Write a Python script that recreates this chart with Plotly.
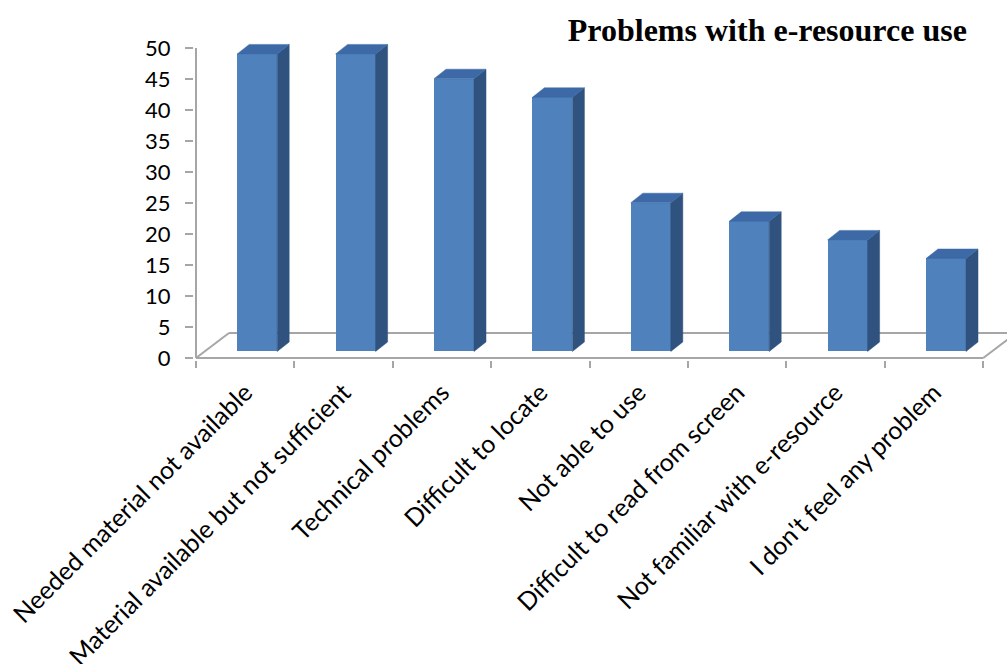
import plotly.graph_objects as go

# ---- data ----
categories = [
    "Needed material not available",
    "Material available but not sufficient",
    "Technical problems",
    "Difficult to locate",
    "Not able to use",
    "Difficult to read from screen",
    "Not familiar with e-resource",
    "I don't feel any problem",
]
values = [48, 48, 44, 41, 24, 21, 18, 15]
y_ticks = [0, 5, 10, 15, 20, 25, 30, 35, 40, 45, 50]
title_text = "Problems with e-resource use"

# ---- 3D look parameters (in axis units) ----
FLOOR_DX, FLOOR_DY = 0.335, 4.03     # floor depth
BAR_SHIFT = 0.122                    # front face shift from category centre
BAR_W = 0.4065                       # front face width
BAR_BASE = 1.05                      # front face bottom above front edge
BAR_DX, BAR_DY = 0.122, 1.53         # bar depth

FRONT = "#4F81BD"
SIDE = "#30527F"
TOP = "#3D6AA6"
GRID = "#A6A6A6"

n = len(categories)
xs = [i + BAR_SHIFT for i in range(n)]

fig = go.Figure()

# front faces
fig.add_trace(go.Bar(
    x=xs, y=values, base=[BAR_BASE] * n, width=BAR_W,
    marker=dict(color=FRONT, line=dict(width=0)),
    hoverinfo="skip", showlegend=False,
))

# side and top faces
side_x, side_y, top_x, top_y = [], [], [], []
for x, v in zip(xs, values):
    xl, xr = x - BAR_W / 2, x + BAR_W / 2
    b, t = BAR_BASE, BAR_BASE + v
    side_x += [xr, xr + BAR_DX, xr + BAR_DX, xr, xr, None]
    side_y += [b, b + BAR_DY, t + BAR_DY, t, b, None]
    top_x += [xl, xr, xr + BAR_DX, xl + BAR_DX, xl, None]
    top_y += [t, t, t + BAR_DY, t + BAR_DY, t, None]

fig.add_trace(go.Scatter(x=side_x, y=side_y, mode="lines", fill="toself",
                         fillcolor=SIDE, line=dict(color=SIDE, width=0.5),
                         hoverinfo="skip", showlegend=False))
fig.add_trace(go.Scatter(x=top_x, y=top_y, mode="lines", fill="toself",
                         fillcolor=TOP, line=dict(color=TOP, width=0.5),
                         hoverinfo="skip", showlegend=False))

# floor outline and value-axis line
x_lo, x_hi = -0.5, n - 0.5
floor = [
    (x_lo, 0, x_hi, 0),
    (x_hi, 0, x_hi + FLOOR_DX, FLOOR_DY),
    (x_lo + FLOOR_DX, FLOOR_DY, x_hi + FLOOR_DX, FLOOR_DY),
    (x_lo, 0, x_lo + FLOOR_DX, FLOOR_DY),
    (x_lo, 0, x_lo, max(y_ticks)),
]
for x0, y0, x1, y1 in floor:
    fig.add_shape(type="line", xref="x", yref="y", x0=x0, y0=y0, x1=x1, y1=y1,
                  line=dict(color=GRID, width=2), layer="below")

PX_X = 98.4
PX_Y = 6.2
L, R, T, B = 194, 0, 20, 304
W, H = 1007, 664
xmin = -0.5 - 2 / PX_X
xmax = xmin + (W - L - R) / PX_X
ymin = -2 / PX_Y
ymax = ymin + (H - T - B) / PX_Y

fig.update_layout(
    width=W, height=H,
    margin=dict(l=L, r=R, t=T, b=B, autoexpand=False),
    paper_bgcolor="white", plot_bgcolor="white",
    bargap=0,
    title=dict(text="<b>" + title_text + "</b>", x=0.762, xanchor="center",
               y=1 - 30 / H, yanchor="middle",
               font=dict(family="Liberation Serif", size=32, color="black")),
    font=dict(family="Lato", color="black"),
    xaxis=dict(
        range=[xmin, xmax], showgrid=False, zeroline=False, showline=False,
        automargin=False,
        tickmode="array", tickvals=list(range(n)), ticktext=categories,
        ticks="", tickangle=-45, tickfont=dict(size=25, family="Lato"),
        ticklabelstandoff=12,
        minor=dict(tick0=-0.5, dtick=1, ticks="outside", ticklen=7,
                   tickcolor=GRID, tickwidth=2),
    ),
    yaxis=dict(
        range=[ymin, ymax], showgrid=False, zeroline=False, showline=False,
        automargin=False,
        tickmode="array", tickvals=y_ticks, ticks="outside", ticklen=8,
        tickcolor=GRID, tickwidth=2, tickfont=dict(size=22, family="Lato"),
        ticklabelstandoff=10,
    ),
)

fig.write_html("out.html")
